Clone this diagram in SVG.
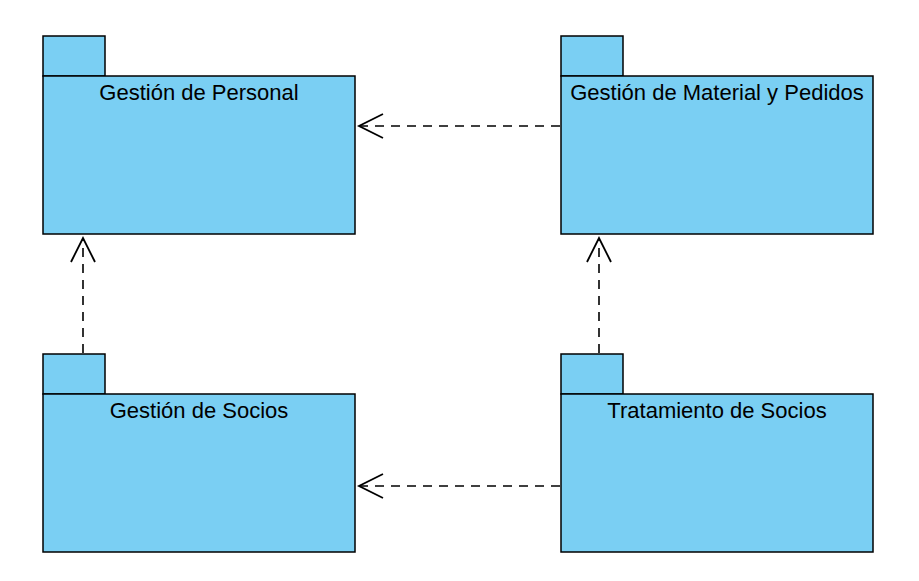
<svg xmlns="http://www.w3.org/2000/svg" width="919" height="581" viewBox="0 0 919 581">
<style>
.pk{fill:#7ACFF3;stroke:#000;stroke-width:1.5}
.lb{font-family:"Liberation Sans",Arial,sans-serif;font-size:22px;fill:#000;text-anchor:middle}
.dep{fill:none;stroke:#000;stroke-width:1.6;stroke-dasharray:9,7}
.ah{fill:none;stroke:#000;stroke-width:1.8}
</style>
<rect width="919" height="581" fill="#fff"/>
<g id="gestion-personal">
<rect class="pk" x="43" y="36" width="62" height="40"/>
<rect class="pk" x="43" y="76" width="312" height="158"/>
<text class="lb" x="199" y="100">Gestión de Personal</text>
</g>
<g id="gestion-material">
<rect class="pk" x="561" y="36" width="62" height="40"/>
<rect class="pk" x="561" y="76" width="312" height="158"/>
<text class="lb" x="717" y="100">Gestión de Material y Pedidos</text>
</g>
<g id="gestion-socios">
<rect class="pk" x="43" y="354" width="62" height="40"/>
<rect class="pk" x="43" y="394" width="312" height="158"/>
<text class="lb" x="199" y="418">Gestión de Socios</text>
</g>
<g id="tratamiento-socios">
<rect class="pk" x="561" y="354" width="62" height="40"/>
<rect class="pk" x="561" y="394" width="312" height="158"/>
<text class="lb" x="717" y="418">Tratamiento de Socios</text>
</g>
<g id="connectors">
<line class="dep" x1="560" y1="126" x2="360" y2="126"/>
<polyline class="ah" points="383,114 359,126 383,138"/>
<line class="dep" x1="560" y1="486" x2="360" y2="486"/>
<polyline class="ah" points="383,474 359,486 383,498"/>
<line class="dep" x1="83" y1="353" x2="83" y2="239"/>
<polyline class="ah" points="71,262 83,238 95,262"/>
<line class="dep" x1="599" y1="353" x2="599" y2="239"/>
<polyline class="ah" points="587,262 599,238 611,262"/>
</g>
</svg>
